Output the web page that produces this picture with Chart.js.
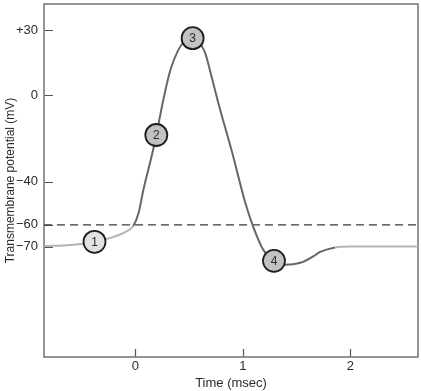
<!DOCTYPE html>
<html>
<head>
<meta charset="utf-8">
<script src="https://cdn.jsdelivr.net/npm/chart.js@4/dist/chart.umd.min.js"></script>
<style>
  html, body { margin: 0; padding: 0; background: #fff; }
  canvas { display: block; }
</style>
</head>
<body>
<canvas id="ap" width="421" height="391"></canvas>
<script>
// action potential trace
const TIME_MS = [-0.85, -0.6, -0.38, -0.23, -0.1, -0.02, 0.03, 0.075, 0.165, 0.195,
                 0.26, 0.326, 0.40, 0.47, 0.53, 0.58, 0.62, 0.651, 0.71, 0.772, 0.902, 1.023,
                 1.098, 1.19, 1.29, 1.395, 1.535, 1.647, 1.72, 1.86, 2.0, 2.63];
const VOLTAGE_MV = [-69.8, -69.3, -67.8, -66, -63.5, -60.5, -54.5, -43.8, -25.4, -18.5,
                    -2.3, 11.5, 20.8, 25.5, 26.5, 25.4, 22.4, 19.2, 8.3, -3.7, -26.8, -49.8,
                    -61, -71.5, -76.8, -78.4, -77.5, -74.8, -72.5, -70.4, -70, -70];

// numbered phase markers
const PHASE_LABELS = ['1', '2', '3', '4'];
const PHASE_TIME = [-0.38, 0.195, 0.533, 1.29];
const PHASE_MV = [-67.8, -18.5, 26.2, -76.6];

const THRESHOLD_MV = -60;

const X_RANGE = [-0.85, 2.63];
const Y_RANGE = [-121, 42];
const X_TICKS = [0, 1, 2];
const Y_TICKS = [30, 0, -40, -60, -70];
const Y_TICK_LABELS = ['+30', '0', '\u221240', '\u221260', '\u221270'];

const DARK  = '#676767';
const LIGHT = '#b4b4b4';
const TEXT  = '#2b2b2b';
const FONT  = "'Liberation Sans', Arial, sans-serif";

const trace = TIME_MS.map((t, i) => ({ x: t, y: VOLTAGE_MV[i] }));
const phases = PHASE_TIME.map((t, i) => ({ x: t, y: PHASE_MV[i] }));
const threshold = X_RANGE.map(t => ({ x: t, y: THRESHOLD_MV }));

// frame + inward tick marks
const framePlugin = {
  id: 'frame',
  beforeDatasetsDraw(chart) {
    const { ctx, chartArea: a, scales } = chart;
    ctx.save();
    ctx.strokeStyle = '#555';
    ctx.lineWidth = 1.2;
    ctx.beginPath();
    Y_TICKS.forEach(v => {
      const y = Math.round(scales.y.getPixelForValue(v)) + 0.5;
      ctx.moveTo(a.left, y);
      ctx.lineTo(a.left + 9, y);
    });
    X_TICKS.forEach(v => {
      const x = Math.round(scales.x.getPixelForValue(v)) + 0.5;
      ctx.moveTo(x, a.bottom);
      ctx.lineTo(x, a.bottom - 8);
    });
    ctx.stroke();
    ctx.strokeStyle = '#7a7a7a';
    ctx.lineWidth = 1.6;
    ctx.strokeRect(a.left, a.top, a.right - a.left, a.bottom - a.top);
    ctx.restore();
  },
};

// numbers inside the marker circles
const phaseLabelPlugin = {
  id: 'phaseLabels',
  afterDatasetsDraw(chart) {
    const { ctx } = chart;
    const meta = chart.getDatasetMeta(2);
    ctx.save();
    ctx.font = '12px ' + FONT;
    ctx.fillStyle = TEXT;
    ctx.textAlign = 'center';
    ctx.textBaseline = 'middle';
    meta.data.forEach((pt, i) => {
      ctx.fillText(PHASE_LABELS[i], pt.x, pt.y + 0.5);
    });
    ctx.restore();
  },
};

new Chart(document.getElementById('ap'), {
  type: 'line',
  data: {
    datasets: [
      {
        data: threshold,
        borderColor: '#3a3a3a',
        borderWidth: 1.3,
        borderDash: [8, 5],
        pointRadius: 0,
        order: 3,
      },
      {
        data: trace,
        borderWidth: 2,
        borderColor: DARK,
        cubicInterpolationMode: 'monotone',
        pointRadius: 0,
        segment: {
          borderColor: c =>
            (c.p0.parsed.x < -0.06 || c.p0.parsed.x >= 1.86) ? LIGHT : DARK,
        },
        order: 2,
      },
      {
        type: 'scatter',
        data: phases,
        pointRadius: 11,
        pointBorderWidth: 1.8,
        pointBorderColor: '#1e1e1e',
        pointBackgroundColor: ['#e2e2e2', '#c2c2c2', '#c2c2c2', '#c2c2c2'],
        showLine: false,
        order: 1,
      },
    ],
  },
  options: {
    responsive: false,
    devicePixelRatio: 1,
    animation: false,
    layout: { autoPadding: false, padding: { top: 4, right: 3, left: 0, bottom: 0 } },
    plugins: { legend: { display: false }, tooltip: { enabled: false } },
    scales: {
      x: {
        type: 'linear',
        min: X_RANGE[0],
        max: X_RANGE[1],
        afterBuildTicks: s => { s.ticks = X_TICKS.map(v => ({ value: v })); },
        afterFit: s => { s.height = 34; s.paddingLeft = 0; s.paddingRight = 0; },
        grid: { display: false, drawTicks: false },
        border: { display: false },
        ticks: { color: TEXT, padding: 2, font: { size: 13, family: FONT } },
        title: {
          display: true,
          text: 'Time (msec)',
          color: TEXT,
          padding: 0,
          font: { size: 13, family: FONT },
        },
      },
      y: {
        type: 'linear',
        min: Y_RANGE[0],
        max: Y_RANGE[1],
        afterBuildTicks: s => { s.ticks = Y_TICKS.map(v => ({ value: v })); },
        afterFit: s => { s.width = 44; s.paddingTop = 0; s.paddingBottom = 0; },
        grid: { display: false, drawTicks: false },
        border: { display: false },
        ticks: {
          color: TEXT,
          padding: 6,
          font: { size: 13, family: FONT },
          callback: v => Y_TICK_LABELS[Y_TICKS.indexOf(v)],
        },
        title: {
          display: true,
          text: 'Transmembrane potential (mV)',
          color: TEXT,
          padding: { top: 3, bottom: 0 },
          font: { size: 12, family: FONT },
        },
      },
    },
  },
  plugins: [framePlugin, phaseLabelPlugin],
});
</script>
</body>
</html>
